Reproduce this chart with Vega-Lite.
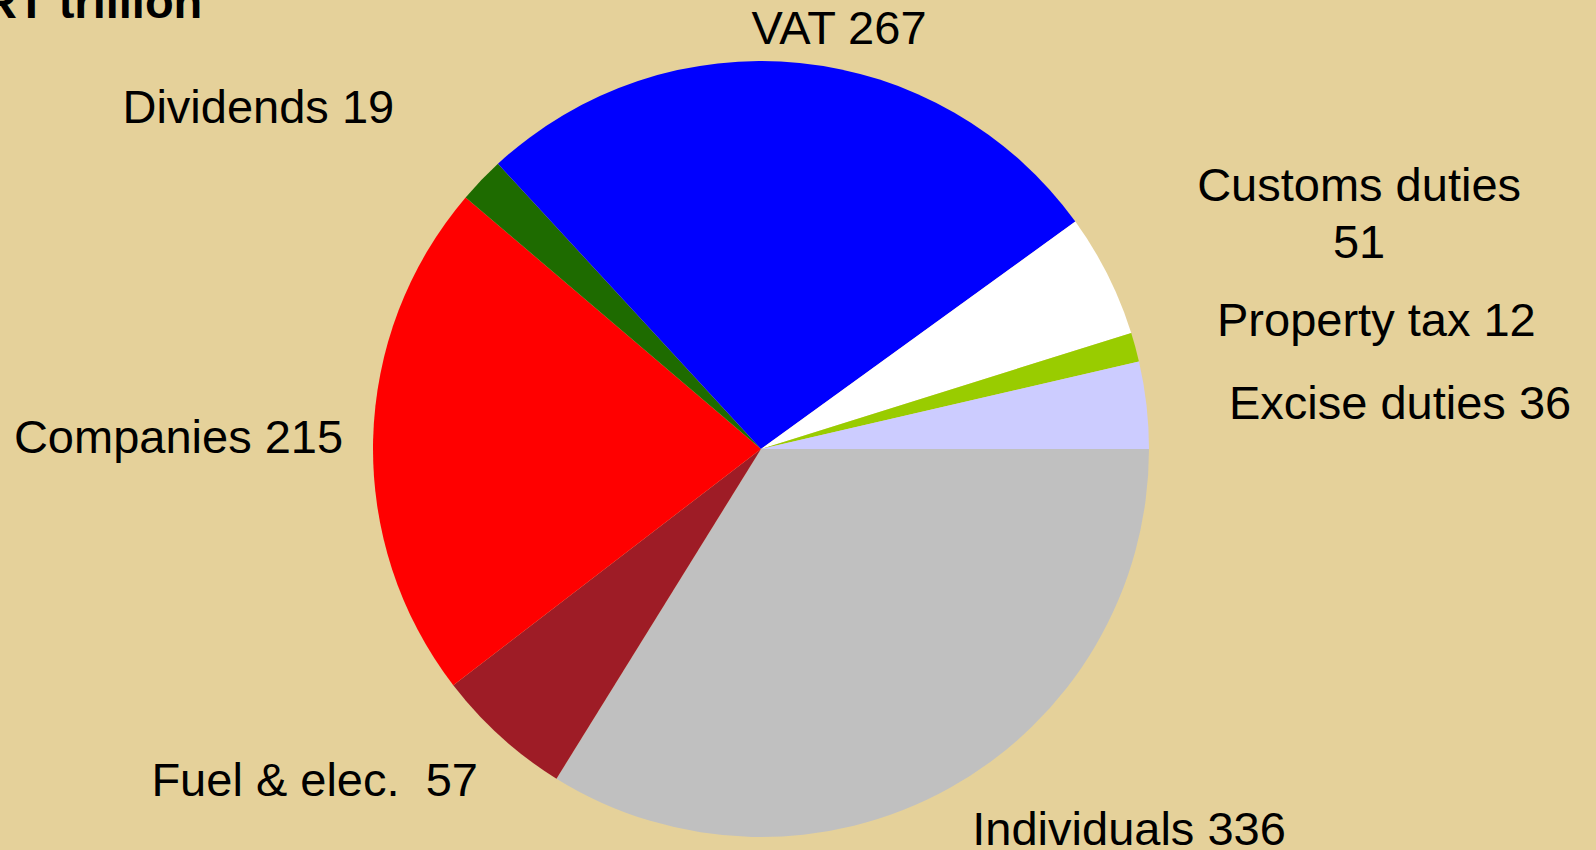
{
  "$schema": "https://vega.github.io/schema/vega-lite/v6.json",
  "width": 1522,
  "height": 802,
  "autosize": {"type": "none"},
  "padding": {"left": 0, "top": 48, "right": 74, "bottom": 0},
  "background": "#E5D19A",
  "config": {
    "view": {"stroke": null},
    "text": {"font": "Liberation Sans", "fontSize": 47, "color": "#000000"}
  },
  "title": {
    "text": "RT trillion",
    "anchor": "start",
    "frame": "group",
    "orient": "top",
    "font": "Liberation Sans",
    "fontSize": 47,
    "fontWeight": "bold",
    "color": "#000000",
    "baseline": "alphabetic",
    "dx": -17,
    "offset": -159
  },
  "data": {
    "values": [
      {"k": 1, "category": "Individuals", "value": 336, "label": "Individuals 336"},
      {"k": 2, "category": "Fuel & elec.", "value": 57, "label": "Fuel & elec.\u00a0 57"},
      {"k": 3, "category": "Companies", "value": 215, "label": "Companies 215"},
      {"k": 4, "category": "Dividends", "value": 19, "label": "Dividends 19"},
      {"k": 5, "category": "VAT", "value": 267, "label": "VAT 267"},
      {"k": 6, "category": "Customs duties", "value": 51, "label": "Customs duties\n51"},
      {"k": 7, "category": "Property tax", "value": 12, "label": "Property tax 12"},
      {"k": 8, "category": "Excise duties", "value": 36, "label": "Excise duties 36"}
    ]
  },
  "encoding": {
    "theta": {"field": "value", "type": "quantitative", "stack": true, "scale": {"range": [1.5707963, 7.8539816]}},
    "order": {"field": "k", "type": "quantitative", "sort": "ascending"}
  },
  "layer": [
    {
      "mark": {"type": "arc", "radius": 388, "strokeWidth": 0},
      "encoding": {
        "color": {
          "field": "category",
          "type": "nominal",
          "scale": {
            "domain": ["Individuals", "Fuel & elec.", "Companies", "Dividends", "VAT", "Customs duties", "Property tax", "Excise duties"],
            "range": ["#C0C0C0", "#9E1C26", "#FF0000", "#1E6B00", "#0000FF", "#FFFFFF", "#99CC00", "#CCCCFF"]
          },
          "legend": null
        }
      }
    },
    {
      "mark": {"type": "text", "radius": 407, "dx": 37.5, "align": "center", "baseline": "alphabetic"},
      "encoding": {"text": {"condition": {"test": "datum.category === 'VAT'", "field": "label", "type": "nominal"}, "value": ""}}
    },
    {
      "mark": {"type": "text", "radius": 470, "dx": -28, "align": "right", "baseline": "alphabetic"},
      "encoding": {"text": {"condition": {"test": "datum.category === 'Dividends'", "field": "label", "type": "nominal"}, "value": ""}}
    },
    {
      "mark": {"type": "text", "radius": 470, "dx": 178, "dy": -37.7, "align": "center", "baseline": "alphabetic", "lineBreak": "\n", "lineHeight": 57},
      "encoding": {"text": {"condition": {"test": "datum.category === 'Customs duties'", "field": "label", "type": "nominal"}, "value": ""}}
    },
    {
      "mark": {"type": "text", "radius": 472.6, "dy": 11, "align": "left", "baseline": "alphabetic"},
      "encoding": {"text": {"condition": {"test": "datum.category === 'Property tax'", "field": "label", "type": "nominal"}, "value": ""}}
    },
    {
      "mark": {"type": "text", "radius": 471, "dy": 23.5, "align": "left", "baseline": "alphabetic"},
      "encoding": {"text": {"condition": {"test": "datum.category === 'Excise duties'", "field": "label", "type": "nominal"}, "value": ""}}
    },
    {
      "mark": {"type": "text", "radius": 418, "dy": 14.6, "align": "right", "baseline": "alphabetic"},
      "encoding": {"text": {"condition": {"test": "datum.category === 'Companies'", "field": "label", "type": "nominal"}, "value": ""}}
    },
    {
      "mark": {"type": "text", "radius": 468, "dx": 31, "align": "right", "baseline": "alphabetic"},
      "encoding": {"text": {"condition": {"test": "datum.category === 'Fuel & elec.'", "field": "label", "type": "nominal"}, "value": ""}}
    },
    {
      "mark": {"type": "text", "radius": 453, "dx": -9, "align": "left", "baseline": "alphabetic"},
      "encoding": {"text": {"condition": {"test": "datum.category === 'Individuals'", "field": "label", "type": "nominal"}, "value": ""}}
    }
  ]
}
